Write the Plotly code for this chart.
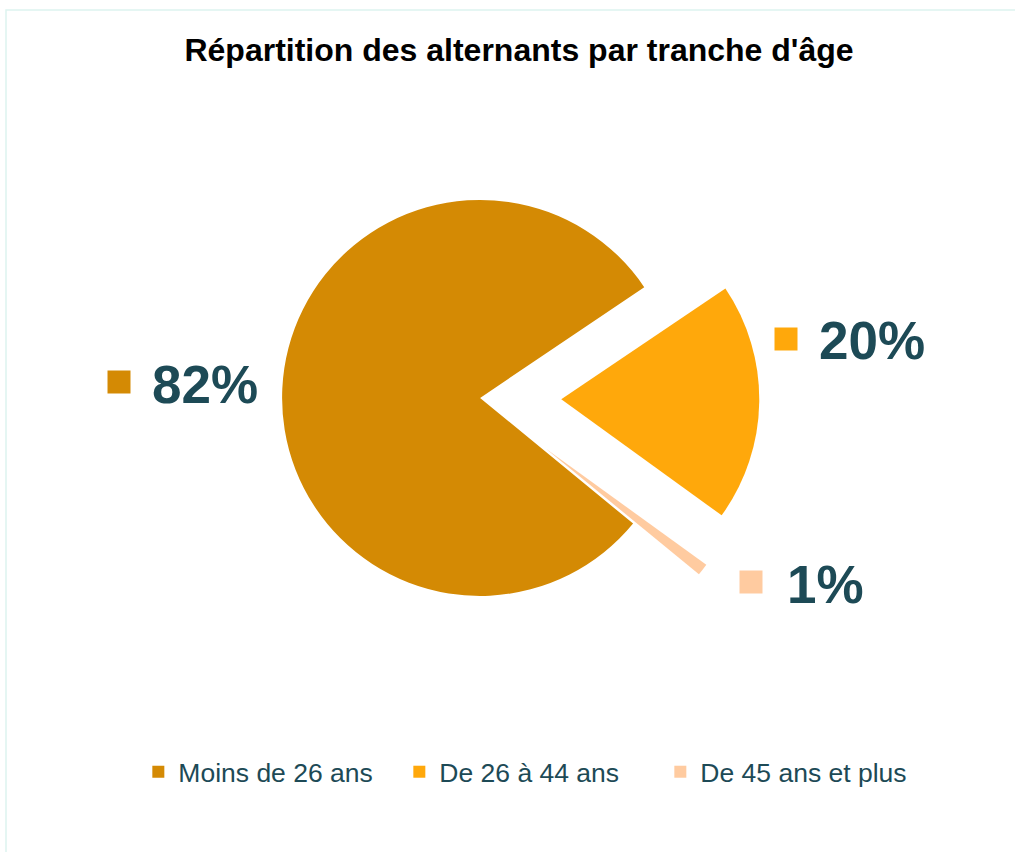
import plotly.graph_objects as go

# ---- data ----
categories = ["Moins de 26 ans", "De 26 à 44 ans", "De 45 ans et plus"]
values = [82, 20, 1]
label_texts = ["82%", "20%", "1%"]
colors = ["#D48A04", "#FFA80B", "#FFCBA0"]
pulls = [0, 0.41, 0.42]

TEXT_COLOR = "#1D4A56"
FONT = "Liberation Sans, Arial, sans-serif"

W, H = 1015, 852

fig = go.Figure(go.Pie(
    labels=categories,
    values=values,
    sort=False,
    direction="clockwise",
    rotation=129.4,
    pull=pulls,
    marker=dict(colors=colors, line=dict(width=0)),
    textinfo="none",
    hoverinfo="label+value",
    domain=dict(x=[0.196, 0.750], y=[0.203, 0.863]),
))

# outside data labels (text from data arrays), with coloured squares
label_pos = [  # (square centre x px, text left x px, centre y px)
    (119, 150, 384),
    (786, 817, 341),
    (751, 785, 584),
]
shapes = []
annotations = []
for (sqx, tx, cy), txt, col in zip(label_pos, label_texts, colors):
    s = 11.5
    shapes.append(dict(type="rect", xref="paper", yref="paper",
                       x0=(sqx - s) / W, x1=(sqx + s) / W,
                       y0=1 - (cy - 2 + s) / H, y1=1 - (cy - 2 - s) / H,
                       fillcolor=col, line=dict(width=0)))
    annotations.append(dict(text=txt, xref="paper", yref="paper",
                            x=tx / W, y=1 - cy / H, xanchor="left", yanchor="middle",
                            showarrow=False,
                            font=dict(family=FONT, size=53, color=TEXT_COLOR, weight="bold")))

# light chart-area border (top and left visible)
shapes.append(dict(type="rect", xref="paper", yref="paper",
                   x0=6 / W, x1=1.05, y0=-0.05, y1=1 - 10 / H,
                   line=dict(color="#DDF4EF", width=1.5), fillcolor="rgba(0,0,0,0)", layer="below"))

fig.update_layout(
    width=W,
    height=H,
    autosize=False,
    title=dict(text="<b>Répartition des alternants par tranche d'âge</b>",
               x=519 / W, xanchor="center", y=1 - 50 / H, yanchor="middle",
               font=dict(family=FONT, size=32, color="#000000")),
    showlegend=True,
    legend=dict(orientation="h", x=0.522, xanchor="center", y=1 - 772 / H, yanchor="middle",
                font=dict(family=FONT, size=26.5, color=TEXT_COLOR),
                traceorder="normal", entrywidth=216, entrywidthmode="pixels"),
    margin=dict(l=0, r=0, t=0, b=0),
    paper_bgcolor="white",
    plot_bgcolor="white",
    shapes=shapes,
    annotations=annotations,
)

fig.write_html(
    "out.html",
    config={"displayModeBar": False},
    post_script="document.body.style.margin='0px'; document.body.style.overflow='hidden';",
)
